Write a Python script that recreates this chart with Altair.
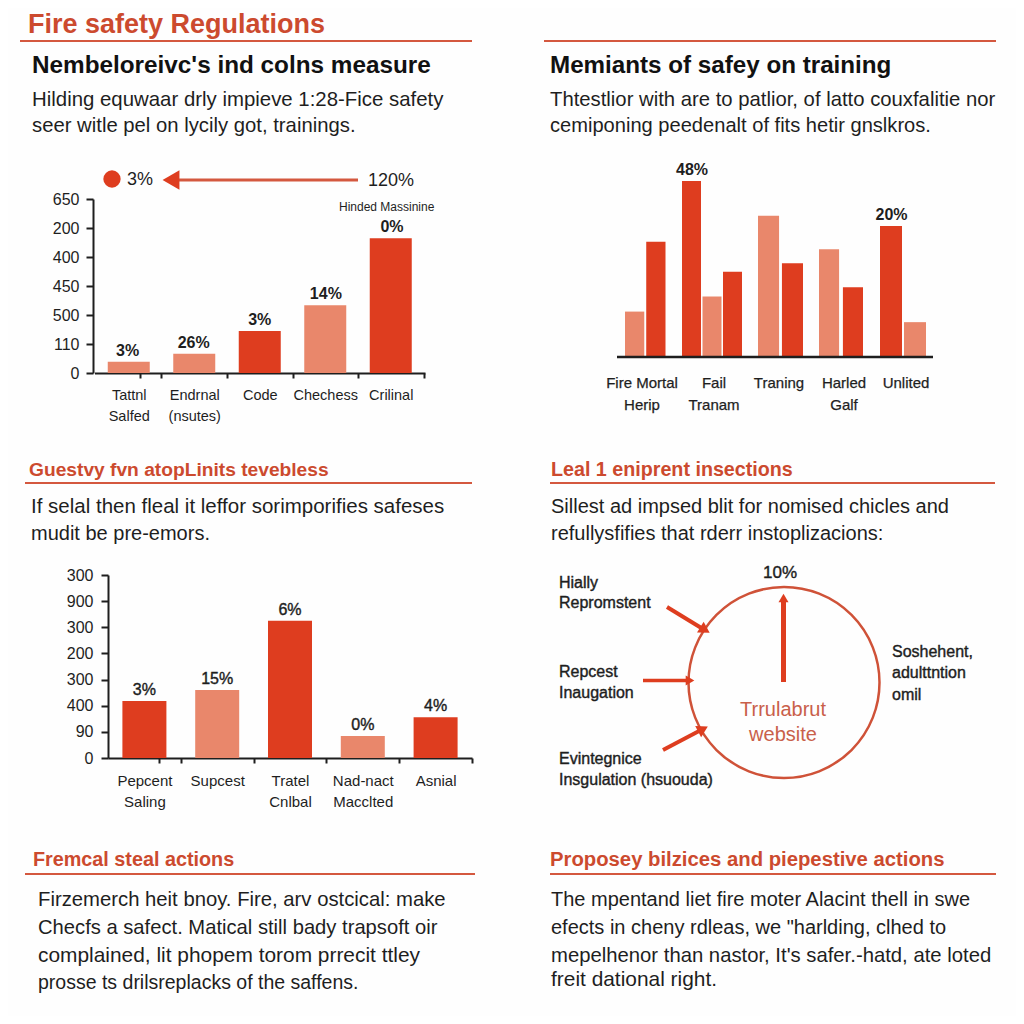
import json
import altair as alt
import pandas as pd

DARK = "#de3d1f"
LIGHT = "#e9876b"
RED = "#cc4a2e"
LINE = "#d4583f"
INK = "#1e1e1e"
FONT = "Liberation Sans"

# chart 1
c1_cats = ["Tattnl|Salfed", "Endrnal|(nsutes)", "Code", "Chechess", "Crilinal"]
c1_vals = [0.39, 0.66, 1.45, 2.34, 4.65]
c1_labs = ["3%", "26%", "3%", "14%", "0%"]
c1_tone = ["light", "light", "dark", "light", "dark"]
c1_ticks = ["0", "110", "500", "450", "400", "200", "650"]
# chart 2
c2_groups = [
    (["a1", "a2"], [25.8, 65.5], ["", ""], ["light", "dark"]),
    (["b1", "b2", "b3"], [100, 34.4, 48.4], ["48%", "", ""], ["dark", "light", "dark"]),
    (["c1", "c2"], [80.2, 53.2], ["", ""], ["light", "dark"]),
    (["d1", "d2"], [61.2, 39.7], ["", ""], ["light", "dark"]),
    (["e1", "e2"], [74.4, 19.8], ["20%", ""], ["dark", "light"]),
]
# chart 3
c3_cats = ["Pepcent|Saling", "Supcest", "Tratel|Cnlbal", "Nad-nact|Macclted", "Asnial"]
c3_vals = [2.18, 2.60, 5.25, 0.84, 1.56]
c3_labs = ["3%", "15%", "6%", "0%", "4%"]
c3_tone = ["dark", "light", "dark", "light", "dark"]
c3_ticks = ["0", "90", "400", "300", "200", "300", "900", "300"]


def T(s, x, y, size=20, weight="normal", color=INK, align="left", font=FONT, stroke=0):
    kw = {"stroke": color, "strokeWidth": stroke} if stroke else {}
    return alt.Chart().mark_text(
        text=s, fontSize=size, fontWeight=weight, color=color, align=align,
        baseline="middle", font=font, **kw
    ).encode(x=alt.value(x - 8), y=alt.value(y - 8))


def R(x, x2, y, y2=None, color=LINE, w=2):
    return alt.Chart().mark_rule(color=color, strokeWidth=w).encode(
        x=alt.value(x - 8), x2=alt.value(x2 - 8), y=alt.value(y - 8),
        y2=alt.value((y if y2 is None else y2) - 8))


def P(x, y, shape, size, angle=0, color=DARK):
    return alt.Chart().mark_point(shape=shape, filled=True, size=size, angle=angle, color=color, opacity=1).encode(
        x=alt.value(x - 8), y=alt.value(y - 8))


def band(cats, a, b, w, s):
    n = len(cats)
    pi = (s - w) / s
    po = ((b - a) - (n * s - (s - w))) / (2 * s)
    return alt.Scale(domain=cats, range=[a - 8, b - 8], paddingInner=pi, paddingOuter=max(po, 0))


def panel(cats, vals, labs, tone, xscale, ydomain, base, top, xaxis=None, yaxis=None, lab_size=16, lab_w="bold", lab_stroke=0):
    df = pd.DataFrame({"cat": cats, "val": vals, "lab": labs, "tone": tone})
    y = alt.Scale(domain=ydomain, range=[base - 8, top - 8], nice=False, zero=True)
    color = alt.Color("tone:N", legend=None,
                      scale=alt.Scale(domain=["dark", "light"], range=[DARK, LIGHT]))
    bars = alt.Chart(df).mark_bar(cornerRadius=0).encode(
        x=alt.X("cat:N", scale=xscale, axis=xaxis, title=None, sort=cats),
        y=alt.Y("val:Q", scale=y, axis=yaxis, title=None),
        color=color,
    )
    kw = {"stroke": INK, "strokeWidth": lab_stroke} if lab_stroke else {}
    text = alt.Chart(df[df.lab != ""]).mark_text(
        baseline="bottom", dy=-3, fontSize=lab_size, fontWeight=lab_w, color=INK, font=FONT, **kw
    ).encode(
        x=alt.X("cat:N", scale=xscale, axis=None),
        y=alt.Y("val:Q", scale=y, axis=None),
        text="lab:N",
    )
    return [bars, text]


def axes(ticks, x_base, pad=8, tsize=16):
    expr = json.dumps(ticks) + "[datum.value]"
    return alt.Axis(values=list(range(len(ticks))), labelExpr=expr, offset=-(x_base - 8), orient="left",
                    domainColor=INK, domainWidth=2, tickColor=INK, tickWidth=2, tickSize=7, grid=False,
                    labelFont=FONT, labelFontSize=tsize, labelColor=INK, labelPadding=pad)


def xaxis(base, step, pad=8, size=15):
    return alt.Axis(orient="bottom", offset=-(1008 - (base - 8)), labelExpr="split(datum.label,'|')",
                    labelAngle=0, labelFont=FONT, labelFontSize=size, labelColor=INK, labelLineHeight=21.5,
                    labelPadding=pad, labelBaseline="top", domainColor=INK, domainWidth=2, tickColor=INK,
                    tickWidth=2, tickSize=5, tickOffset=step / 2, tickExtra=True, grid=False, labelLimit=0,
                    labelOffset=-step / 2)


layers = []
# ---------- text blocks
layers += [
    T("Fire safety Regulations", 28, 24.5, 27, "bold", RED),
    R(20, 472, 41), R(544, 996, 41),
    T("Nembeloreivc's ind colns measure", 32, 65.5, 24.3, "bold", "#111111"),
    T("Memiants of safey on training", 550, 65.5, 24.2, "bold", "#111111"),
    T("Hilding equwaar drly impieve 1:28-Fice safety", 32, 100, 20.4),
    T("seer witle pel on lycily got, trainings.", 32, 126, 20.3),
    T("Thtestlior with are to patlior, of latto couxfalitie nor", 550, 100, 20.3),
    T("cemiponing peedenalt of fits hetir gnslkros.", 550, 126, 20.1),
    T("Guestvy fvn atopLinits tevebless", 29, 470, 19.2, "bold", RED),
    T("Leal 1 eniprent insections", 551, 470, 19.7, "bold", RED),
    R(25, 472, 483), R(550, 995, 483),
    T("If selal then fleal it leffor sorimporifies safeses", 31, 507, 20.5),
    T("mudit be pre-emors.", 31, 534, 20),
    T("Sillest ad impsed blit for nomised chicles and", 551, 507, 20),
    T("refullysfifies that rderr instoplizacions:", 551, 534, 20),
    T("Fremcal steal actions", 33, 860, 19.8, "bold", RED),
    T("Proposey bilzices and piepestive actions", 550, 860, 20.3, "bold", RED),
    R(25, 475, 874), R(550, 996, 874),
    T("Firzemerch heit bnoy. Fire, arv ostcical: make", 38, 900, 20.3),
    T("Checfs a safect. Matical still bady trapsoft oir", 38, 928, 20.2),
    T("complained, lit phopem torom prrecit ttley", 38, 956, 20.9),
    T("prosse ts drilsreplacks of the saffens.", 38, 983, 19.5),
    T("The mpentand liet fire moter Alacint thell in swe", 551, 900, 20),
    T("efects in cheny rdleas, we \"harlding, clhed to", 551, 928, 20),
    T("mepelhenor than nastor, It's safer.-hatd, ate loted", 551, 956, 20.3),
    T("freit dational right.", 551, 980, 20.9),
]
# ---------- chart 1 header annotation
layers += [
    P(112, 179, "circle", 300),
    T("3%", 127, 180, 18),
    R(172, 358, 180, w=3),
    P(171, 180, "triangle-left", 380),
    T("120%", 368, 181, 18),
    T("Hinded Massinine", 339, 207, 12),
]
# ---------- chart 1
layers += panel(c1_cats, c1_vals, c1_labs, c1_tone, band(c1_cats, 94.5, 425, 42, 65.5), [0, 6], 373, 199,
                xaxis=xaxis(373, 65.5, pad=10, size=14.5), yaxis=axes(c1_ticks, 93, pad=7))
# ---------- chart 2
ranges = [(625, 665.5, 19.5, 21.5), (682, 742, 19, 20.5), (758, 803, 22, 25), (819, 863, 21, 25), (880, 926, 22, 24)]
for (ids, vals, labs, tone), (a, b, w, s) in zip(c2_groups, ranges):
    layers += panel(ids, vals, labs, tone, band(ids, a, b, w, s), [0, 100], 357, 181)
layers.append(R(617, 933, 357, color=INK, w=2.5))
for label, cx in [("Fire Mortal", 642), ("Fail", 714), ("Traning", 779), ("Harled", 844), ("Unlited", 906)]:
    layers.append(T(label, cx, 383, 15, align="center", stroke=0.25))
for label, cx in [("Herip", 642), ("Tranam", 714), ("Galf", 844)]:
    layers.append(T(label, cx, 405, 15, align="center", stroke=0.25))
# ---------- chart 3
layers += panel(c3_cats, c3_vals, c3_labs, c3_tone, band(c3_cats, 108, 472, 44, 72.8), [0, 7], 758, 575,
                xaxis=xaxis(758, 72.8, pad=10), yaxis=axes(c3_ticks, 108, pad=8), lab_w="normal", lab_stroke=0.4)
# ---------- circle diagram
layers += [
    alt.Chart().mark_point(shape="circle", filled=False, size=36481, color="#cf5238", strokeWidth=2.5, opacity=1).encode(
        x=alt.value(784 - 8), y=alt.value(682.5 - 8)),
    R(783.5, 783.5, 682, 598, color=DARK, w=5),
    P(783.5, 598, "triangle-up", 100),
    R(667, 703, 607, 629, color=DARK, w=4),
    P(705, 630, "triangle-up", 160, angle=121.5),
    R(643, 688, 680.5, color=DARK, w=3.5),
    P(690, 680.5, "triangle-up", 100, angle=90),
    R(663, 701, 750, 730, color=DARK, w=4),
    P(703, 729, "triangle-up", 160, angle=62),
    T("10%", 780, 573, 17, align="center", stroke=0.4),
    T("Hially", 559, 583, 16, stroke=0.4),
    T("Repromstent", 559, 603, 16, stroke=0.4),
    T("Repcest", 559, 672, 16, stroke=0.4),
    T("Inaugation", 559, 693, 16, stroke=0.4),
    T("Evintegnice", 559, 759, 16, stroke=0.4),
    T("Insgulation (hsuouda)", 559, 780, 16, stroke=0.4),
    T("Soshehent,", 892, 652, 16, stroke=0.4),
    T("adulttntion", 892, 673, 16, stroke=0.4),
    T("omil", 892, 695, 16, stroke=0.4),
    T("Trrulabrut", 783, 710, 20, color="#c9604a", align="center"),
    T("website", 783, 735, 20, color="#c9604a", align="center"),
]

chart = alt.layer(*layers).resolve_scale(x="independent", y="independent").properties(
    width=1008, height=1008, padding=0, background="#fefefe",
    autosize=alt.AutoSizeParams(type="none"),
).configure_view(stroke=None)

chart.save("out.html", embed_options={"renderer": "svg", "actions": False})
